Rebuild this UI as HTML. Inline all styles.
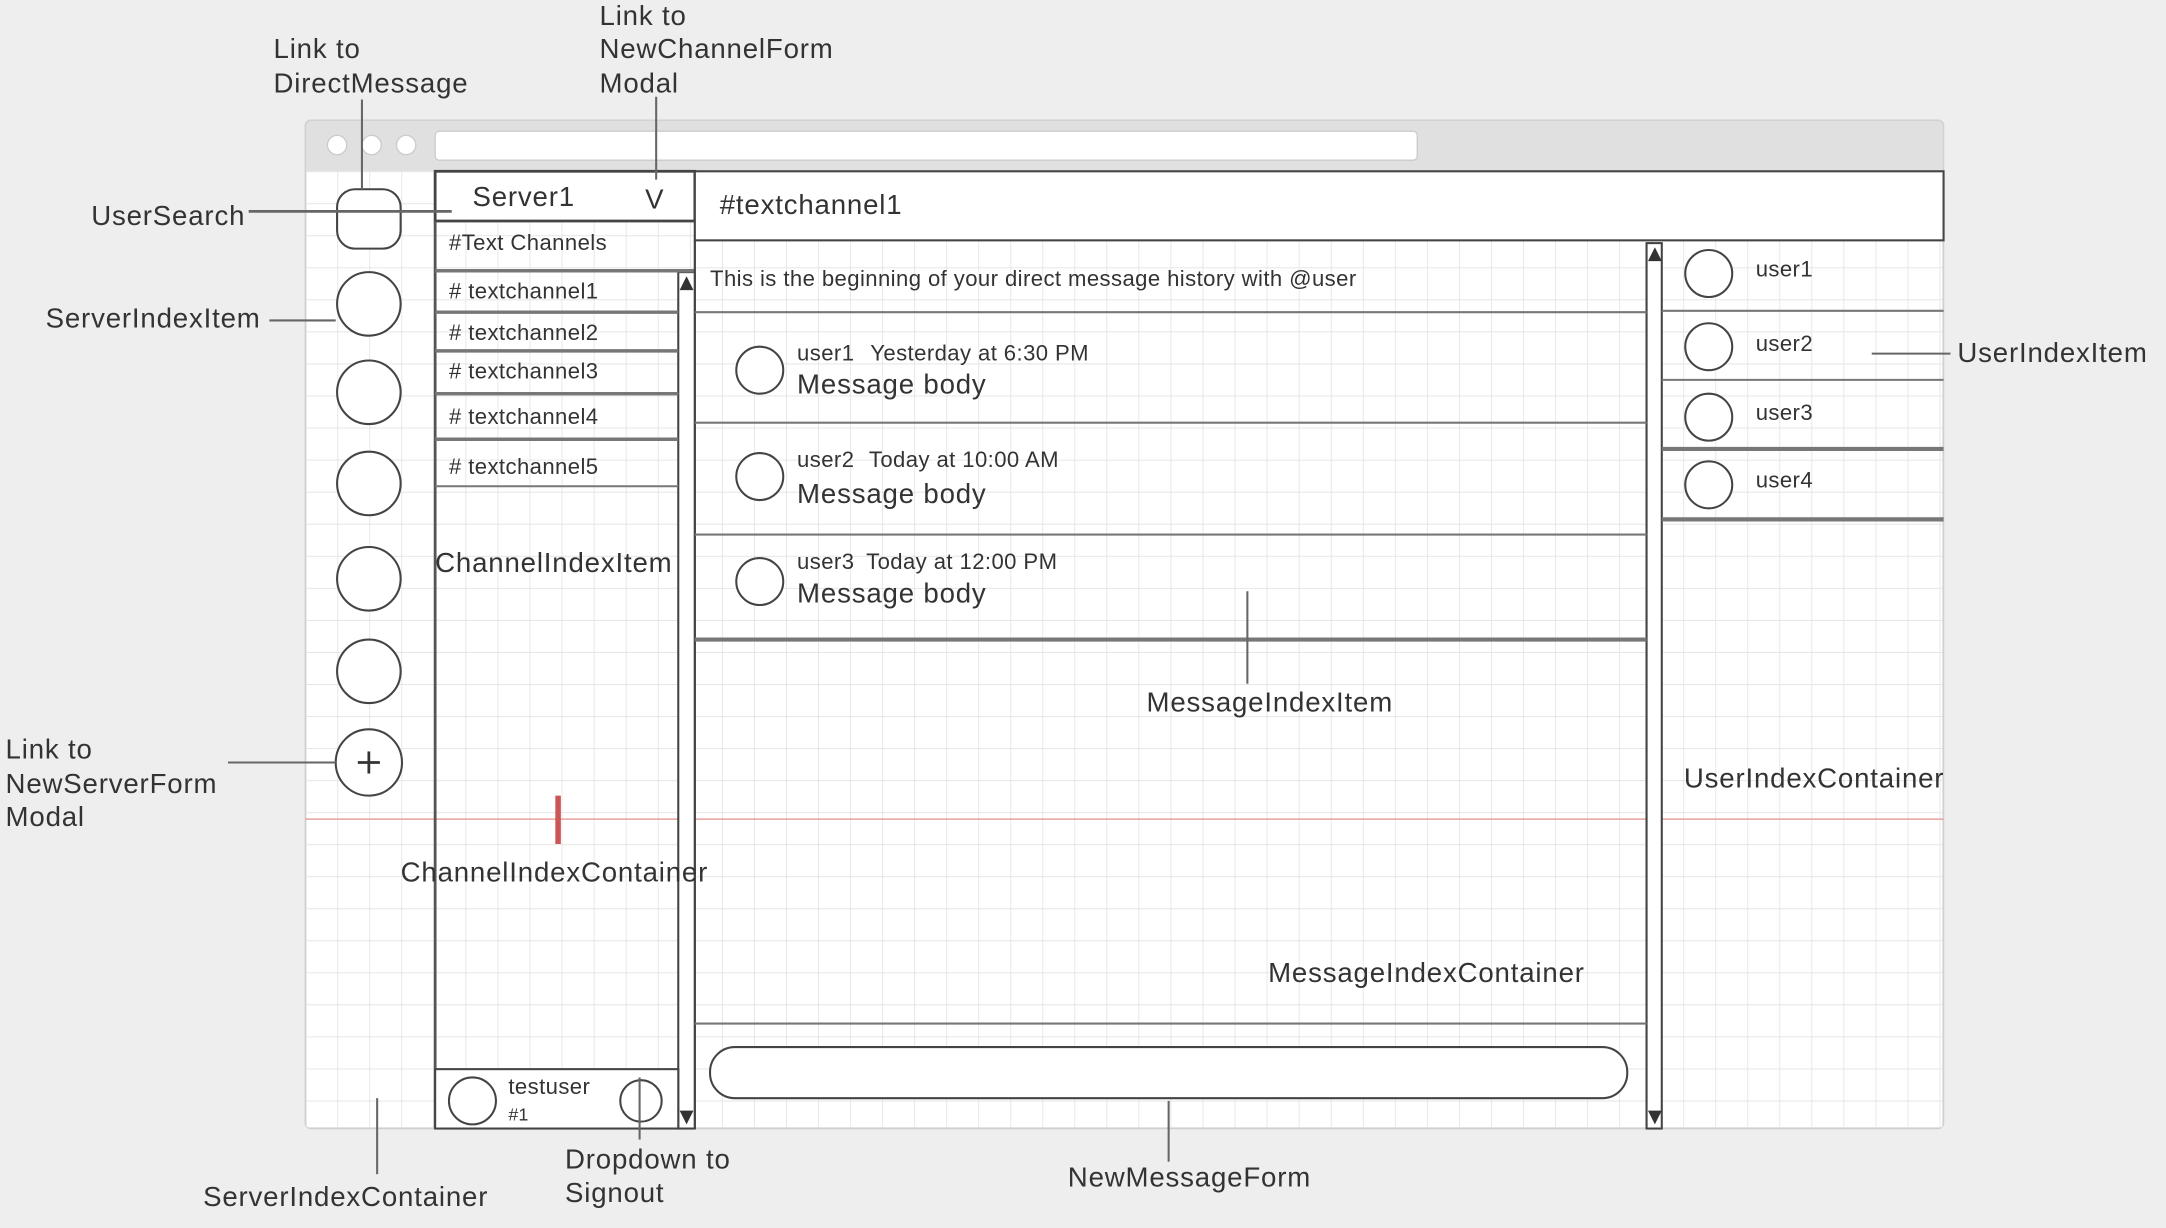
<!DOCTYPE html>
<html><head><meta charset="utf-8"><style>
html,body{margin:0;padding:0;background:#eeeeee;width:2166px;height:1228px;overflow:hidden}
svg{display:block}
text{font-family:"Liberation Sans",sans-serif;fill:#333}
</style></head><body>
<svg width="2166" height="1228" viewBox="0 0 1568 889" xmlns="http://www.w3.org/2000/svg">
<defs>
<pattern id="g" x="221" y="124" width="23.2" height="23.2" patternUnits="userSpaceOnUse">
<path d="M0 0H23.2M0 0V23.2" stroke="#dedede" stroke-width="1" fill="none"/>
</pattern>
</defs>
<rect width="1568" height="889" fill="#eeeeee"/>
<rect x="221" y="87" width="1186" height="730" rx="4" fill="#e0e0e0" stroke="#d0d0d0"/>
<rect x="222" y="124" width="1184" height="692" fill="#fff"/>
<rect x="222" y="124" width="1184" height="692" fill="url(#g)"/>
<circle cx="244" cy="105" r="7" fill="#fff" stroke="#ccc"/>
<circle cx="269" cy="105" r="7" fill="#fff" stroke="#ccc"/>
<circle cx="294" cy="105" r="7" fill="#fff" stroke="#ccc"/>
<rect x="315" y="95" width="711" height="21" rx="3" fill="#fff" stroke="#ccc"/>
<line x1="221" y1="593" x2="1407" y2="593" stroke="#e8a0a0" stroke-width="1"/>
<g fill="none" stroke="#444" stroke-width="1.5">
<rect x="244" y="137" width="46" height="43" rx="13" fill="#fff"/>
<circle cx="267" cy="220" r="23" fill="#fff"/>
<circle cx="267" cy="284" r="23" fill="#fff"/>
<circle cx="267" cy="350" r="23" fill="#fff"/>
<circle cx="267" cy="419" r="23" fill="#fff"/>
<circle cx="267" cy="486" r="23" fill="#fff"/>
<circle cx="267" cy="552" r="24" fill="#fff"/>
<rect x="315" y="124" width="188" height="36" fill="#fff" stroke-width="2"/>
<line x1="315" y1="160" x2="315" y2="817" stroke="#555" stroke-width="2"/>
<line x1="503" y1="160" x2="503" y2="196" stroke="#666"/>
<rect x="491" y="197" width="12" height="620" fill="#fff"/>
<line x1="315" y1="196" x2="503" y2="196" stroke="#777" stroke-width="2.5"/>
<rect x="315" y="774" width="176" height="43" fill="#fff"/>
<circle cx="342" cy="797" r="17" fill="#fff"/>
<circle cx="464" cy="797" r="15" fill="#fff"/>
<rect x="503" y="124" width="904" height="50" fill="#fff" stroke-width="1.5"/>
<line x1="503" y1="174" x2="503" y2="817"/>
<line x1="1192" y1="176" x2="1192" y2="817"/>
<rect x="1192" y="176" width="11" height="641" fill="#fff"/>
<line x1="503" y1="741" x2="1192" y2="741" stroke="#777"/>
<rect x="514" y="758" width="664" height="37" rx="18" fill="#fff"/>
<circle cx="550" cy="268" r="17" fill="#fff"/>
<circle cx="550" cy="345" r="17" fill="#fff"/>
<circle cx="550" cy="421" r="17" fill="#fff"/>
<circle cx="1237" cy="198" r="17" fill="#fff"/>
<circle cx="1237" cy="251" r="17" fill="#fff"/>
<circle cx="1237" cy="302" r="17" fill="#fff"/>
<circle cx="1237" cy="351" r="17" fill="#fff"/>
</g>
<g stroke="#777" stroke-width="2.5">
<line x1="315" y1="226" x2="491" y2="226"/><line x1="315" y1="254" x2="491" y2="254"/>
<line x1="315" y1="285" x2="491" y2="285"/><line x1="315" y1="318" x2="491" y2="318"/>
<line x1="315" y1="352" x2="491" y2="352" stroke-width="1.5"/>
</g>
<g stroke="#777" stroke-width="1.5">
<line x1="503" y1="226" x2="1192" y2="226"/><line x1="503" y1="306" x2="1192" y2="306"/>
<line x1="503" y1="387" x2="1192" y2="387"/><line x1="503" y1="463" x2="1192" y2="463" stroke-width="3"/>
<line x1="1203" y1="225" x2="1407" y2="225"/><line x1="1203" y1="275" x2="1407" y2="275"/>
<line x1="1203" y1="325" x2="1407" y2="325" stroke-width="3"/><line x1="1203" y1="376" x2="1407" y2="376" stroke-width="3"/>
</g>
<g fill="#333">
<path d="M492 210l5-10 5 10z"/><path d="M492 804l5 10 5-10z"/>
<path d="M1193 189l5-10 5 10z"/><path d="M1193 804l5 10 5-10z"/>
</g>
<line x1="259" y1="552" x2="275" y2="552" stroke="#333" stroke-width="2"/>
<line x1="267" y1="544" x2="267" y2="560" stroke="#333" stroke-width="2"/>
<rect x="402" y="576" width="4" height="35" fill="#c55"/>
<g stroke="#666" stroke-width="1.5">
<line x1="262" y1="72" x2="262" y2="137"/>
<line x1="475" y1="70" x2="475" y2="130"/>
<line x1="180" y1="153" x2="327" y2="153" stroke-width="2"/>
<line x1="195" y1="232" x2="243" y2="232"/>
<line x1="165" y1="552" x2="243" y2="552"/>
<line x1="273" y1="795" x2="273" y2="850"/>
<line x1="463" y1="780" x2="463" y2="825"/>
<line x1="846" y1="797" x2="846" y2="841"/>
<line x1="903" y1="428" x2="903" y2="495"/>
<line x1="1355" y1="256" x2="1412" y2="256"/>
</g>
<g font-size="20" letter-spacing="0.6">
<text x="198" y="42">Link to</text><text x="198" y="67">DirectMessage</text>
<text x="434" y="18">Link to</text><text x="434" y="42">NewChannelForm</text><text x="434" y="67">Modal</text>
<text x="66" y="163">UserSearch</text>
<text x="33" y="237">ServerIndexItem</text>
<text x="4" y="549">Link to</text><text x="4" y="574">NewServerForm</text><text x="4" y="598">Modal</text>
<text x="147" y="873">ServerIndexContainer</text>
<text x="409" y="846">Dropdown to</text><text x="409" y="870">Signout</text>
<text x="773" y="859">NewMessageForm</text>
<text x="830" y="515">MessageIndexItem</text>
<text x="918" y="711">MessageIndexContainer</text>
<text x="1219" y="570">UserIndexContainer</text>
<text x="1417" y="262">UserIndexItem</text>
<text x="315" y="414">ChannelIndexItem</text>
<text x="290" y="638">ChannelIndexContainer</text>
<text x="342" y="149">Server1</text><text x="467" y="151">V</text>
<text x="521" y="155">#textchannel1</text>
<text x="577" y="285">Message body</text>
<text x="577" y="364">Message body</text>
<text x="577" y="436">Message body</text>
</g>
<g font-size="16" letter-spacing="0.3">
<text x="325" y="181">#Text Channels</text>
<text x="325" y="216"># textchannel1</text>
<text x="325" y="246"># textchannel2</text>
<text x="325" y="274"># textchannel3</text>
<text x="325" y="307"># textchannel4</text>
<text x="325" y="343"># textchannel5</text>
<text x="514" y="207">This is the beginning of your direct message history with @user</text>
<text x="577" y="261">user1<tspan x="630">Yesterday at 6:30 PM</tspan></text>
<text x="577" y="338">user2<tspan x="629">Today at 10:00 AM</tspan></text>
<text x="577" y="412">user3<tspan x="627">Today at 12:00 PM</tspan></text>
<text x="1271" y="200">user1</text><text x="1271" y="254">user2</text>
<text x="1271" y="304">user3</text><text x="1271" y="353">user4</text>
<text x="368" y="792">testuser</text>
</g>
<text x="368" y="811" font-size="13">#1</text>
</svg>
</body></html>
